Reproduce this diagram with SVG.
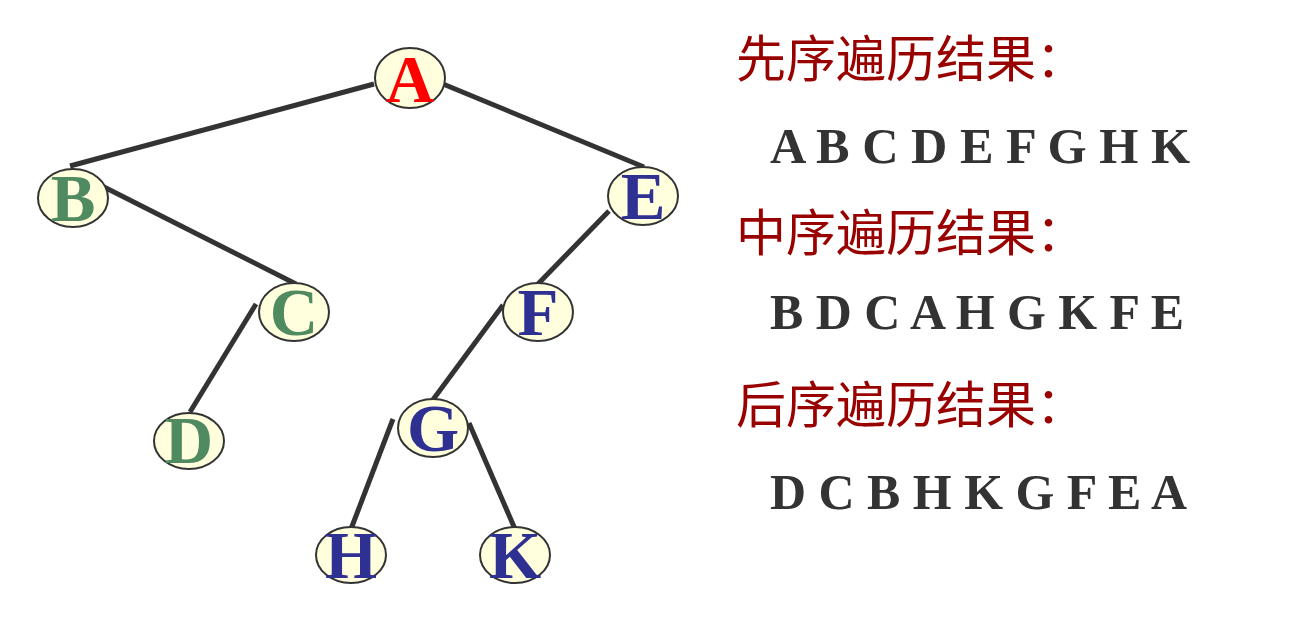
<svg xmlns="http://www.w3.org/2000/svg" width="1313" height="635" viewBox="0 0 1313 635">
<style>
.edge{stroke:#333;stroke-width:5;fill:none;stroke-linecap:butt}
.node ellipse{fill:#ffffdd;stroke:#333;stroke-width:2}
.node text{font-family:"Liberation Serif","Times New Roman",serif;font-weight:bold;font-size:67px;text-anchor:middle}
.red{fill:#ff0000}.green{fill:#4f8a60}.blue{fill:#2e3192}
.head{font-family:"Noto Sans CJK SC","Noto Sans",sans-serif;font-size:50px;fill:#990000}
.seq{font-family:"Liberation Serif","Times New Roman",serif;font-weight:bold;font-size:51px;fill:#333}
</style>
<rect width="1313" height="635" fill="#fff"/>
<g id="connectors">
<line class="edge" x1="374" y1="84" x2="70" y2="166"/>
<line class="edge" x1="443" y1="84" x2="644" y2="167"/>
<line class="edge" x1="104" y1="187" x2="296" y2="284"/>
<line class="edge" x1="609" y1="211" x2="536" y2="286"/>
<line class="edge" x1="256" y1="304" x2="190" y2="412"/>
<line class="edge" x1="503" y1="305" x2="432" y2="401"/>
<line class="edge" x1="393" y1="419" x2="351" y2="529"/>
<line class="edge" x1="469" y1="423" x2="515" y2="529"/>
</g>
<g id="node-A" class="node"><ellipse cx="410" cy="78" rx="35" ry="30"/><text x="410" y="102" class="red">A</text></g>
<g id="node-B" class="node"><ellipse cx="73" cy="198" rx="35" ry="29"/><text x="73" y="221" class="green">B</text></g>
<g id="node-E" class="node"><ellipse cx="643" cy="196" rx="35" ry="29"/><text x="643" y="219" class="blue">E</text></g>
<g id="node-C" class="node"><ellipse cx="294" cy="312" rx="35" ry="29"/><text x="294" y="335" class="green">C</text></g>
<g id="node-F" class="node"><ellipse cx="538" cy="312" rx="35" ry="29"/><text x="538" y="335" class="blue">F</text></g>
<g id="node-D" class="node"><ellipse cx="189" cy="441" rx="35" ry="28"/><text x="189" y="463" class="green">D</text></g>
<g id="node-G" class="node"><ellipse cx="433" cy="428" rx="35" ry="29"/><text x="433" y="451" class="blue">G</text></g>
<g id="node-H" class="node"><ellipse cx="351" cy="555" rx="35" ry="28"/><text x="351" y="578" class="blue">H</text></g>
<g id="node-K" class="node"><ellipse cx="515" cy="555" rx="35" ry="28"/><text x="515" y="578" class="blue">K</text></g>
<g id="results">
<text class="head" x="736" y="77">先序遍历结果：</text>
<text class="seq" x="770" y="163" textLength="420" lengthAdjust="spacingAndGlyphs">A B C D E F G H K</text>
<text class="head" x="736" y="251">中序遍历结果：</text>
<text class="seq" x="770" y="329" textLength="414" lengthAdjust="spacingAndGlyphs">B D C A H G K F E</text>
<text class="head" x="736" y="423">后序遍历结果：</text>
<text class="seq" x="770" y="509" textLength="417" lengthAdjust="spacingAndGlyphs">D C B H K G F E A</text>
</g>
</svg>
